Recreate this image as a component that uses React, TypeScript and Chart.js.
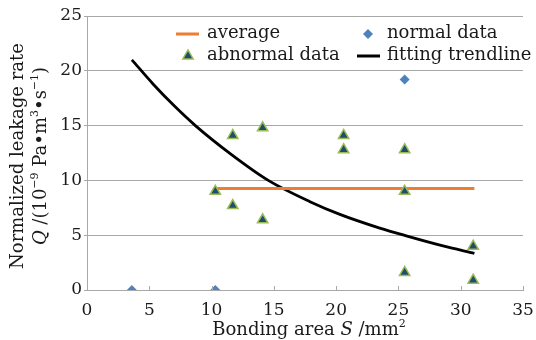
import React, { useEffect, useRef } from "react";
import { Chart, registerables } from "chart.js";

Chart.register(...registerables);

// ---- data ----
const xTickValues = [0, 5, 10, 15, 20, 25, 30, 35];
const yTickValues = [0, 5, 10, 15, 20, 25];

const normalS = [3.6, 10.3, 25.5];
const normalQ = [0, 0, 19.2];

const abnormalS = [10.3, 11.7, 11.7, 14.1, 14.1, 20.6, 20.6, 25.5, 25.5, 25.5, 31.0, 31.0];
const abnormalQ = [9.0, 14.1, 7.7, 14.8, 6.4, 14.1, 12.8, 12.8, 9.0, 1.6, 4.0, 0.9];

const averageS = [10.3, 31.1];
const averageQ = [9.25, 9.25];

const trendS = [3.6, 5.3, 7.0, 8.7, 11.6, 14.55, 17.9, 20.3, 23.5, 25.7, 28.5, 31.1];
const trendQ = [21.0, 18.8, 16.8, 15.0, 12.35, 10.0, 8.06, 6.9, 5.65, 4.92, 4.05, 3.35];

const legendLabels = ["average", "normal data", "abnormal data", "fitting trendline"];

const FONT = '"DejaVu Serif", serif';
const TEXT = "#1a1a1a";
const GRID = "#a8a8a8";
const ORANGE = "#ED7D31";
const BLUE = "#4F81BD";
const TRI_FILL = "#1F4E6B";
const TRI_BORDER = "#9BBB59";

const pts = (xs: number[], ys: number[]) => xs.map((x, i) => ({ x, y: ys[i] }));

type Run = { t: string; italic?: boolean; sup?: boolean };

function drawRuns(ctx: CanvasRenderingContext2D, runs: Run[], cx: number, by: number, size: number) {
  const fontFor = (r: Run) =>
    `${r.italic ? "italic " : ""}${r.sup ? Math.round(size * 0.62) : size}px ${FONT}`;
  let total = 0;
  const widths = runs.map((r) => {
    ctx.font = fontFor(r);
    const w = ctx.measureText(r.t).width;
    total += w;
    return w;
  });
  let x = cx - total / 2;
  ctx.textAlign = "left";
  ctx.textBaseline = "alphabetic";
  runs.forEach((r, i) => {
    ctx.font = fontFor(r);
    ctx.fillText(r.t, x, r.sup ? by - size * 0.42 : by);
    x += widths[i];
  });
}

const decorPlugin = {
  id: "decor",
  afterDraw(chart: any) {
    const ctx: CanvasRenderingContext2D = chart.ctx;
    const area = chart.chartArea;
    const xs = chart.scales.x;
    ctx.save();
    // inner ticks on x axis
    ctx.strokeStyle = GRID;
    ctx.lineWidth = 1;
    xTickValues.forEach((v) => {
      const px = Math.round(xs.getPixelForValue(v)) + 0.5;
      ctx.beginPath();
      ctx.moveTo(px, area.bottom);
      ctx.lineTo(px, area.bottom - 4);
      ctx.stroke();
    });

    ctx.fillStyle = TEXT;
    // x title
    drawRuns(
      ctx,
      [{ t: "Bonding area " }, { t: "S", italic: true }, { t: " /mm" }, { t: "2", sup: true }],
      (area.left + area.right) / 2 + 4,
      335,
      18
    );
    // y title
    const cy = (area.top + area.bottom) / 2 + 3;
    ctx.save();
    ctx.translate(23, cy);
    ctx.rotate(-Math.PI / 2);
    drawRuns(ctx, [{ t: "Normalized leakage rate" }], 0, 0, 18);
    ctx.restore();
    ctx.save();
    ctx.translate(46, cy);
    ctx.rotate(-Math.PI / 2);
    drawRuns(
      ctx,
      [
        { t: "Q", italic: true },
        { t: " /(10" },
        { t: "−9", sup: true },
        { t: " Pa•m" },
        { t: "3", sup: true },
        { t: "•s" },
        { t: "−1", sup: true },
        { t: ")" },
      ],
      0,
      0,
      18
    );
    ctx.restore();

    // legend
    ctx.font = `18px ${FONT}`;
    ctx.textAlign = "left";
    ctx.textBaseline = "alphabetic";
    // average
    ctx.strokeStyle = ORANGE;
    ctx.lineWidth = 3;
    ctx.beginPath();
    ctx.moveTo(176, 34);
    ctx.lineTo(199, 34);
    ctx.stroke();
    ctx.fillStyle = TEXT;
    ctx.fillText(legendLabels[0], 207, 38);
    // normal
    ctx.fillStyle = BLUE;
    ctx.beginPath();
    ctx.moveTo(368, 34 - 5);
    ctx.lineTo(368 + 5, 34);
    ctx.lineTo(368, 34 + 5);
    ctx.lineTo(368 - 5, 34);
    ctx.closePath();
    ctx.fill();
    ctx.fillStyle = TEXT;
    ctx.fillText(legendLabels[1], 387, 38);
    // abnormal
    const r = 6;
    ctx.fillStyle = TRI_FILL;
    ctx.strokeStyle = TRI_BORDER;
    ctx.lineWidth = 1.5;
    ctx.beginPath();
    ctx.moveTo(188, 56 - r);
    ctx.lineTo(188 + r * 0.866, 56 + r / 2);
    ctx.lineTo(188 - r * 0.866, 56 + r / 2);
    ctx.closePath();
    ctx.fill();
    ctx.stroke();
    ctx.fillStyle = TEXT;
    ctx.fillText(legendLabels[2], 207, 60);
    // trendline
    ctx.strokeStyle = "#000";
    ctx.lineWidth = 3;
    ctx.beginPath();
    ctx.moveTo(357, 56);
    ctx.lineTo(380, 56);
    ctx.stroke();
    ctx.fillStyle = TEXT;
    ctx.fillText(legendLabels[3], 387, 60);
    ctx.restore();
  },
};

export default function App() {
  const ref = useRef<HTMLCanvasElement>(null);
  useEffect(() => {
    if (!ref.current) return;
    const chart = new Chart(ref.current, {
      type: "scatter",
      data: {
        datasets: [
          {
            label: legendLabels[1],
            data: pts(normalS, normalQ),
            pointStyle: "rectRot",
            pointRadius: 5,
            backgroundColor: BLUE,
            borderColor: BLUE,
            borderWidth: 0,
          },
          {
            label: legendLabels[2],
            data: pts(abnormalS, abnormalQ),
            pointStyle: "triangle",
            pointRadius: 6,
            backgroundColor: TRI_FILL,
            borderColor: TRI_BORDER,
            borderWidth: 1.5,
          },
          {
            label: legendLabels[0],
            data: pts(averageS, averageQ),
            showLine: true,
            pointRadius: 0,
            borderColor: ORANGE,
            borderWidth: 3,
          },
          {
            label: legendLabels[3],
            data: pts(trendS, trendQ),
            showLine: true,
            pointRadius: 0,
            borderColor: "#000",
            borderWidth: 2.8,
            cubicInterpolationMode: "monotone",
          } as any,
        ],
      },
      options: {
        responsive: false,
        animation: false,
        layout: { padding: { top: 16, right: 13, left: 0, bottom: 0 } },
        plugins: { legend: { display: false }, tooltip: { enabled: false } },
        scales: {
          x: {
            type: "linear",
            min: 0,
            max: 35,
            afterBuildTicks: (s: any) => {
              s.ticks = xTickValues.map((v) => ({ value: v }));
            },
            afterFit: (s: any) => {
              s.height = 50;
            },
            grid: { display: false, drawTicks: true, tickLength: 10 },
            border: { display: true, color: GRID, width: 1 },
            ticks: { color: TEXT, font: { family: FONT, size: 17 }, padding: 0, maxRotation: 0 },
          },
          y: {
            type: "linear",
            min: 0,
            max: 25,
            afterBuildTicks: (s: any) => {
              s.ticks = yTickValues.map((v) => ({ value: v }));
            },
            afterFit: (s: any) => {
              s.width = 87;
            },
            grid: { color: GRID, lineWidth: 1, drawTicks: true, tickLength: 3 },
            border: { display: true, color: GRID, width: 1 },
            ticks: { color: TEXT, font: { family: FONT, size: 17 }, padding: 2 },
          },
        },
      },
      plugins: [decorPlugin],
    } as any);
    return () => chart.destroy();
  }, []);
  return (
    <div style={{ position: "fixed", left: 0, top: 0, width: 536, height: 340, background: "#fff" }}>
      <canvas ref={ref} width={536} height={340} style={{ display: "block" }} />
    </div>
  );
}
